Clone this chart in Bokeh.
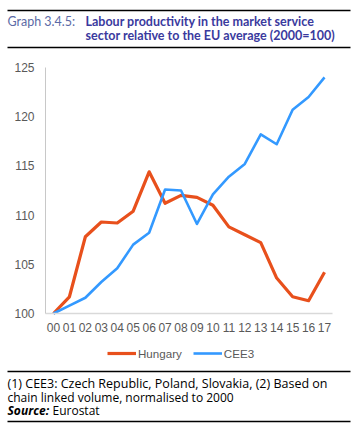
from bokeh.plotting import figure
from bokeh.models import Range1d, FixedTicker, Legend, LegendItem, Label, BoxAnnotation
from bokeh.embed import file_html
from bokeh.resources import INLINE

# ---- data ----
years = ["00", "01", "02", "03", "04", "05", "06", "07", "08", "09",
         "10", "11", "12", "13", "14", "15", "16", "17"]
hungary = [100.0, 101.7, 107.8, 109.3, 109.2, 110.4, 114.4, 111.2, 112.0, 111.8,
           111.0, 108.8, 108.0, 107.2, 103.6, 101.7, 101.3, 104.2]
cee3 = [100.0, 100.8, 101.6, 103.2, 104.6, 107.0, 108.2, 112.6, 112.5, 109.1,
        112.1, 113.9, 115.2, 118.2, 117.2, 120.7, 122.0, 124.0]
y_ticks = [100, 105, 110, 115, 120, 125]
y_min, y_max = 100, 125

title_label = "Graph 3.4.5:"
title_lines = ["Labour productivity in the market service",
               "sector relative to the EU average (2000=100)"]
note_lines = ["(1) CEE3: Czech Republic, Poland, Slovakia, (2) Based on",
              "chain linked volume, normalised to 2000"]
source_label = "Source:"
source_text = "Eurostat"

FONT = "Lato"
NFONT = "Open Sans"
TFONT = "Liberation Sans"
GREY = "#595959"
ORANGE = "#E8501C"
BLUE = "#3399FF"

# ---- layout (pixels) ----
W, H = 358, 428
PL, PR, PT, PB = 45, 332, 67, 313          # plot area edges on the canvas
n = len(years)
x_lo, x_hi = -0.5, n - 0.5
kx = (PR - PL) / (x_hi - x_lo)
ky = (PB - PT) / (y_max - y_min)
x_range = Range1d(x_lo - PL / kx, x_hi + (W - PR) / kx)
y_range = Range1d(y_min - (H - PB) / ky, y_max + PT / ky)

p = figure(width=W, height=H, x_range=x_range, y_range=y_range,
           output_backend="svg", toolbar_location=None, min_border=0)
p.grid.visible = False
p.outline_line_color = None
p.background_fill_color = "white"

xs = list(range(n))
r1 = p.line(xs, hungary, line_color=ORANGE, line_width=3.2, line_join="round")
r2 = p.line(xs, cee3, line_color=BLUE, line_width=2.6, line_join="round")

p.xaxis.fixed_location = y_min
p.xaxis.bounds = (x_lo, x_hi)
p.yaxis.fixed_location = x_lo
p.yaxis.bounds = (y_min, y_max)
p.xaxis.ticker = FixedTicker(ticks=xs)
p.xaxis.major_label_overrides = {i: y for i, y in enumerate(years)}
p.yaxis.ticker = FixedTicker(ticks=y_ticks)
for ax in (p.xaxis, p.yaxis):
    ax.major_tick_line_color = None
    ax.minor_tick_line_color = None
    ax.major_label_text_font = TFONT
    ax.major_label_text_font_size = "12px"
    ax.major_label_text_color = GREY
p.xaxis.axis_line_color = "#d9d9d9"
p.xaxis.axis_line_width = 1.6
p.yaxis.axis_line_color = "#c8c8c8"
p.yaxis.axis_line_width = 1
p.xaxis.major_label_standoff = 3
p.yaxis.major_label_standoff = 5

legend = Legend(items=[LegendItem(label="Hungary", renderers=[r1]),
                       LegendItem(label="CEE3", renderers=[r2])],
                orientation="horizontal", location=(107, H - 360),
                glyph_width=29, glyph_height=14, label_standoff=2, spacing=11,
                padding=0, margin=0, border_line_color=None, background_fill_alpha=0,
                label_text_font=TFONT, label_text_font_size="11.6px", label_text_color=GREY,
                label_height=14)
p.add_layout(legend)


def label(x, y, text, size="12.5px", color="black", style="normal", font=FONT):
    # x, y: canvas pixels from top-left
    p.add_layout(Label(x=x, y=H - y, x_units="screen", y_units="screen", text=text,
                       text_font=font, text_font_size=size, text_color=color,
                       text_font_style=style, text_baseline="middle", text_align="left"))


def rule(y):
    p.add_layout(BoxAnnotation(left=7, right=350, bottom=H - y - 0.65, top=H - y + 0.65,
                               left_units="screen", right_units="screen",
                               bottom_units="screen", top_units="screen",
                               fill_color="black", fill_alpha=1, line_color=None))


# header
rule(10)
rule(47)
label(7, 21, title_label, color="#5b6aa6")
label(85, 21, title_lines[0], color="#3a3a9e", style="bold")
label(85, 35, title_lines[1], color="#3a3a9e", style="bold")

# footer
rule(371)
rule(421)
label(7, 383, note_lines[0], size="12.5px", font=NFONT)
label(7, 397, note_lines[1], size="12px", font=NFONT)
label(7, 410, source_label, size="12px", style="bold italic", font=NFONT)
label(52, 410, source_text, size="12px", font=NFONT)

open("out.html", "w").write(file_html(p, INLINE))
